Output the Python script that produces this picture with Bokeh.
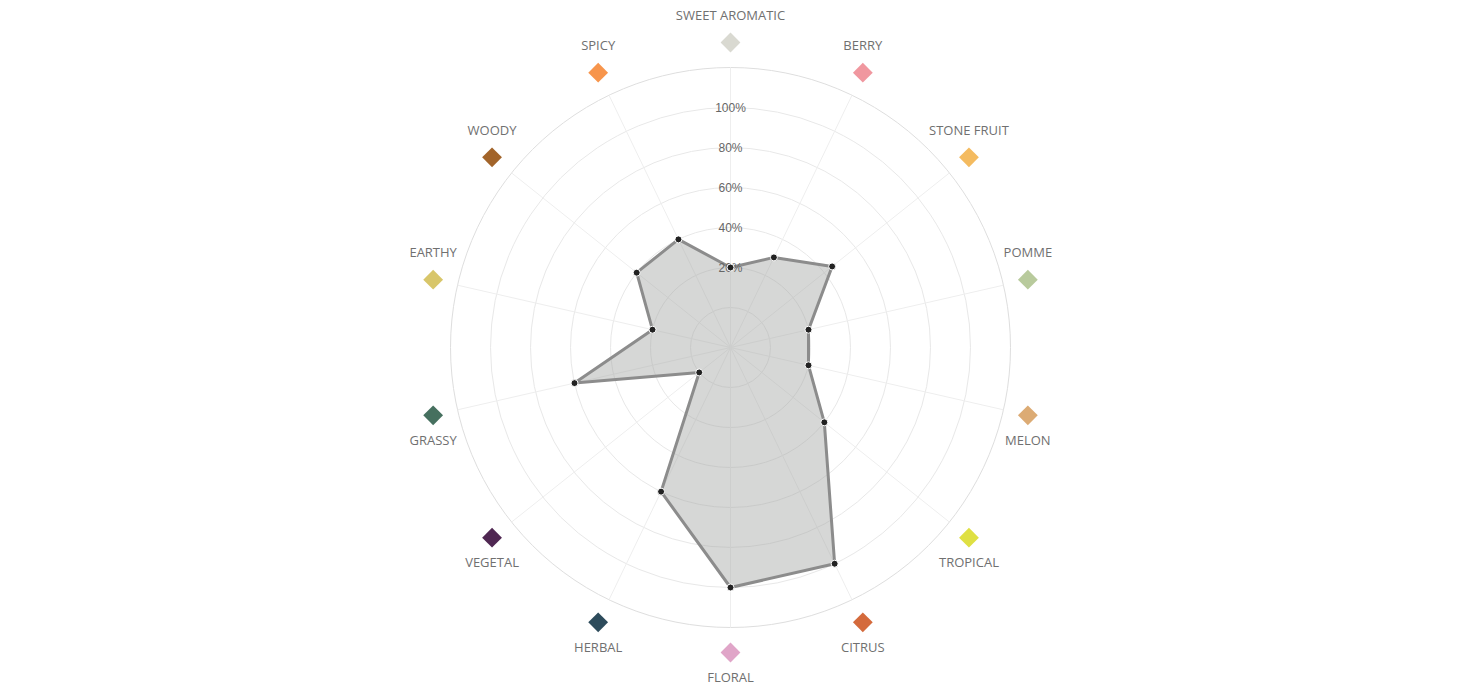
import numpy as np
from bokeh.plotting import figure
from bokeh.models import Range1d, ColumnDataSource
from bokeh.core.properties import value
from bokeh.embed import file_html
from bokeh.resources import INLINE

categories = ["SWEET AROMATIC", "BERRY", "STONE FRUIT", "POMME", "MELON", "TROPICAL",
              "CITRUS", "FLORAL", "HERBAL", "VEGETAL", "GRASSY", "EARTHY", "WOODY", "SPICY"]
values = [20, 30, 45, 20, 20, 40, 100, 100, 60, 0, 60, 20, 40, 40]
colors = ["#d9d9d1", "#f0979f", "#f4bb60", "#b8ca9c", "#dcab74", "#dfe043", "#d46a3c",
          "#e0a5c8", "#2d4b5b", "#4f2752", "#46705f", "#d8c66a", "#a2642a", "#f7954c"]
tick_values = [20, 40, 60, 80, 100]
tick_labels = ["20%", "40%", "60%", "80%", "100%"]

W, H = 1444, 687
cx, cy = 730, H - 347
R0, K = 40, 2.0        # pixel radius of 0% and pixels per percent
R_OUT = 280
R_MARK = 305
LABEL_OFF = 26

def rad(v):
    return R0 + K * v

n = len(categories)
theta = np.pi / 2 - np.arange(n) * 2 * np.pi / n

p = figure(width=W, height=H, output_backend="svg", toolbar_location=None,
           x_range=Range1d(0, W), y_range=Range1d(0, H), min_border=0)
p.axis.visible = False
p.grid.visible = False
p.outline_line_color = None
p.background_fill_color = "white"

# grid rings
ring_r = [rad(v) for v in [0] + tick_values]
p.circle(x=[cx] * len(ring_r), y=[cy] * len(ring_r), radius=ring_r,
         fill_color=None, line_color="#e8e8e8", line_width=1)
p.circle(x=[cx], y=[cy], radius=[R_OUT], fill_color=None, line_color="#dedede", line_width=1)

# spokes
p.segment(x0=[cx] * n, y0=[cy] * n,
          x1=list(cx + R_OUT * np.cos(theta)), y1=list(cy + R_OUT * np.sin(theta)),
          line_color="#eeeeee", line_width=1)

# data polygon
r_data = np.array([rad(v) for v in values])
px = cx + r_data * np.cos(theta)
py = cy + r_data * np.sin(theta)
p.patch(x=list(px), y=list(py), fill_color="#a3a6a3", fill_alpha=0.45,
        line_color=None)
p.line(x=list(px) + [px[0]], y=list(py) + [py[0]], line_color="#8c8c8c", line_width=3,
       line_join="round")

# tick labels
p.text(x=[cx] * len(tick_values), y=[cy + rad(v) for v in tick_values], text=tick_labels,
       text_font=value("Liberation Sans"), text_font_size="12px", text_color="#666666",
       text_align="center", text_baseline="middle")

p.scatter(x=list(px), y=list(py), size=7, marker="circle", fill_color="#222222",
          line_color="white", line_width=1)

# category markers and labels
mx = cx + R_MARK * np.cos(theta)
my = cy + R_MARK * np.sin(theta)
p.scatter(x=list(mx), y=list(my), marker="square", size=14, angle=np.pi / 4,
          fill_color=colors, line_color=None)
ly = [(y + LABEL_OFF if np.sin(t) > 0 else y - LABEL_OFF) + 1.5 for y, t in zip(my, theta)]
src = ColumnDataSource(dict(x=list(mx), y=ly, text=categories))
p.text(x="x", y="y", text="text", source=src, text_font=value("Open Sans"),
       text_font_size="13px", text_color="#707070", text_align="center",
       text_baseline="middle")

open("out.html", "w").write(file_html(p, INLINE))
